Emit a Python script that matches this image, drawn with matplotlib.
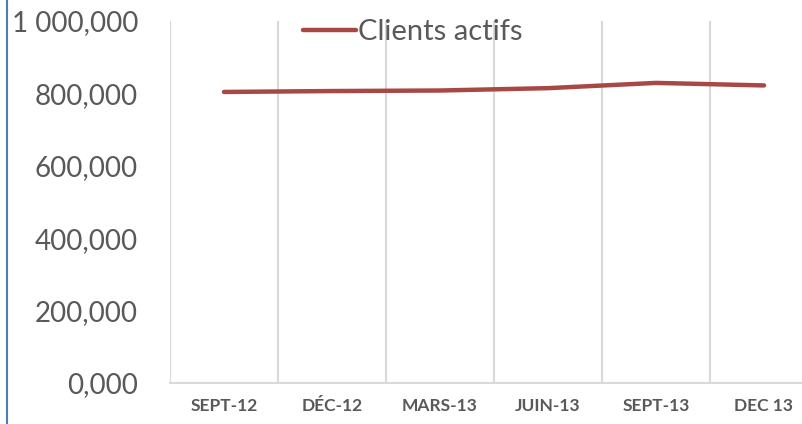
import matplotlib
matplotlib.use("Agg")
import matplotlib.pyplot as plt
from matplotlib.lines import Line2D

# data
periods = ["SEPT-12", "DÉC-12", "MARS-13", "JUIN-13", "SEPT-13", "DEC 13"]
clients_actifs = [804000, 806500, 808000, 814500, 829000, 822000]
y_ticks = [0, 200000, 400000, 600000, 800000, 1000000]
y_tick_labels = ["0,000", "200,000", "400,000", "600,000", "800,000", "1 000,000"]

W, H = 803, 424
fig = plt.figure(figsize=(W / 100, H / 100), dpi=100)
ax = fig.add_axes([170 / W, 1 - 383 / H, 648 / W, 362 / H])

gray_txt = "#595959"
grid_col = "#d9d9d9"
red = "#a84845"
fonts = ["Lato", "DejaVu Sans"]

x = list(range(len(periods)))
ax.plot(x, clients_actifs, color=red, lw=3.2, solid_capstyle="round",
        solid_joinstyle="round", label="Clients actifs")

ax.set_xlim(-0.5, len(periods) - 0.5)
ax.set_ylim(0, 1000000)

# vertical grid at category boundaries (Excel style)
for b in range(len(periods)):
    ax.axvline(b - 0.5, color=grid_col, lw=1.5, zorder=0)

for s in ["top", "right", "left"]:
    ax.spines[s].set_visible(False)
ax.spines["bottom"].set_color(grid_col)
ax.spines["bottom"].set_linewidth(1.5)

ax.set_xticks(x)
ax.set_xticklabels(periods, fontsize=12.5, fontweight="bold", color=gray_txt,
                   family=fonts)
ax.set_yticks(y_ticks)
ax.set_yticklabels(y_tick_labels, fontsize=20, color=gray_txt, family=fonts)
ax.tick_params(axis="x", length=0, pad=11)
ax.tick_params(axis="y", length=0, pad=23)

leg = ax.legend(loc="center", bbox_to_anchor=(413 / W, 1 - 32 / H),
                bbox_transform=fig.transFigure, frameon=False,
                handlelength=1.8, handletextpad=0.08, borderpad=0,
                prop={"family": fonts, "size": 21})
for t in leg.get_texts():
    t.set_color(gray_txt)

# blue border line at the left edge
fig.add_artist(Line2D([7.5 / W, 7.5 / W], [0, 1], color="#4a7ebb", lw=1.5,
                      transform=fig.transFigure))

fig.savefig("out.png", dpi=100)
